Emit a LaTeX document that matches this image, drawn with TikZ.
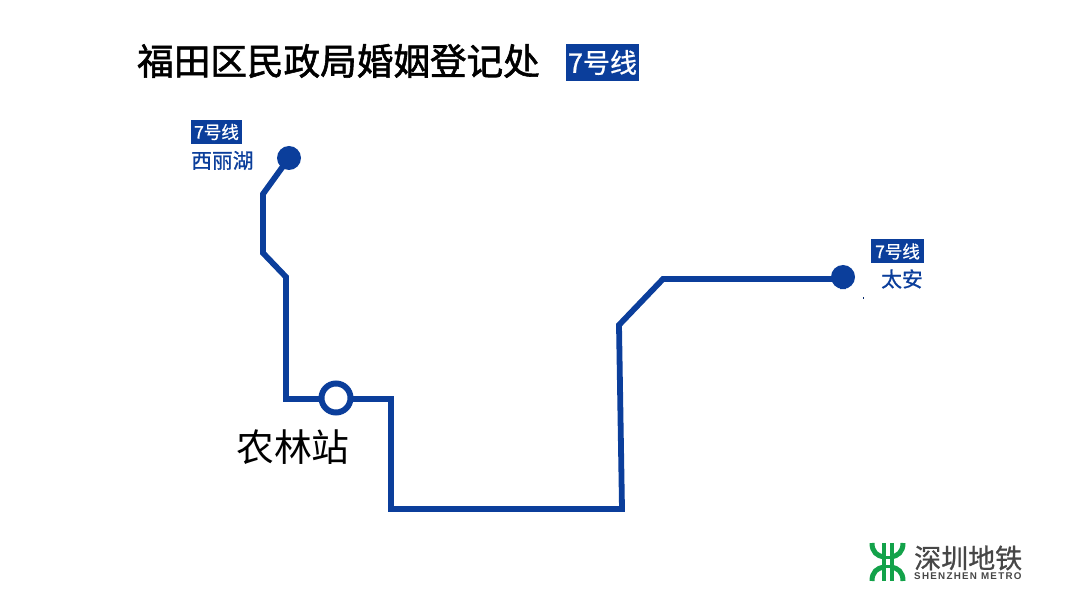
\documentclass[tikz,border=0pt]{standalone}
\usepackage{fontspec}
\setmainfont{Noto Sans CJK SC}
\newfontfamily\heavyfont[FakeBold=1.6]{Noto Sans CJK SC}
\newfontfamily\midfont[FakeBold=0.8]{Noto Sans CJK SC}
\newfontfamily\logofont[LetterSpace=13]{Liberation Sans}
\usetikzlibrary{positioning}
\definecolor{lineblue}{HTML}{0B3E9B}
\definecolor{metrogreen}{HTML}{13A24A}
\tikzstyle{badge} = [rectangle, fill=lineblue, text=white, inner sep=0pt, text centered]
\tikzstyle{stopname} = [inner sep=0pt, text=lineblue, font=\midfont\fontsize{20.8}{21}\selectfont]
\tikzstyle{terminal} = [circle, fill=lineblue, inner sep=0pt, minimum size=24pt]
\tikzstyle{station} = [circle, draw=lineblue, line width=6pt, fill=white, inner sep=0pt, minimum size=29pt]
\tikzstyle{route} = [draw=lineblue, line width=5.8pt, line join=miter]
\tikzstyle{logostroke} = [draw=metrogreen, line width=5pt]

\begin{document}
\begin{tikzpicture}[x=1pt,y=-1pt]
        \useasboundingbox (0,0) rectangle (1080,601);

        \node (title) [anchor=west, inner sep=0pt, font=\heavyfont\fontsize{36.6}{37}\selectfont] at (137,61) {福田区民政局婚姻登记处};
        \node (titleBadge) [badge, minimum width=73pt, minimum height=37pt, font=\midfont\fontsize{27}{27}\selectfont] at (602.5,62.5) {7号线};

        \node (xiliBadge) [badge, minimum width=51pt, minimum height=24pt, font=\midfont\fontsize{17.5}{18}\selectfont] at (216.5,132) {7号线};
        \node (xiliName) [stopname, anchor=west] at (191,160.5) {西丽湖};
        \node (taianBadge) [badge, minimum width=53pt, minimum height=24pt, font=\midfont\fontsize{17.5}{18}\selectfont] at (897.5,251.5) {7号线};
        \node (taianName) [stopname, anchor=west] at (881,279) {太安};

        \node (xili) [terminal] at (289,158) {};
        \node (taian) [terminal] at (843,277) {};
        \coordinate (b1) at (263,194);
        \coordinate (b2) at (263,253);
        \coordinate (b3) at (286,277);
        \coordinate (b4) at (286,399);
        \coordinate (b5) at (391,399);
        \coordinate (b6) at (391,509);
        \coordinate (b7) at (622,509);
        \coordinate (b8) at (619,325);
        \coordinate (b9) at (663,279);
        \coordinate (b10) at (843,279);

        \draw [route] (xili.center) -- (b1) -- (b2) -- (b3) -- (b4) -- (b5) -- (b6) -- (b7) -- (b8) -- (b9) -- (b10) -- (taian);

        \node (nonglin) [station] at (336,398) {};
        \node (nonglinName) [anchor=west, inner sep=0pt, font=\fontsize{37.8}{38}\selectfont] at (236,447) {农林站};

        % logo
        \draw [logostroke] (872,543) .. controls (872,552) and (877,556) .. (884,557);
        \draw [logostroke] (903,543) .. controls (903,552) and (898,556) .. (891,557);
        \draw [logostroke] (872,581) .. controls (872,572) and (877,568) .. (884,567);
        \draw [logostroke] (903,581) .. controls (903,572) and (898,568) .. (891,567);
        \draw [logostroke, line width=4pt] (883.5,543) -- (883.5,581);
        \draw [logostroke, line width=4pt] (891.5,543) -- (891.5,581);
        \draw [logostroke, line width=3pt] (883.5,558) -- (891.5,558);
        \draw [logostroke, line width=3pt] (883.5,567) -- (891.5,567);
        \node (logoCn) [anchor=west, inner sep=0pt, text=black!72, font=\midfont\fontsize{27}{27}\selectfont] at (914,558) {深圳地铁};
        \node (logoEn) [anchor=west, inner sep=0pt, text=black!72, font=\logofont\bfseries\fontsize{9.8}{10}\selectfont] at (914,576) {SHENZHEN METRO};

        \fill [lineblue!70!black] (862.5,297.5) rectangle (864,299);
\end{tikzpicture}
\end{document}
